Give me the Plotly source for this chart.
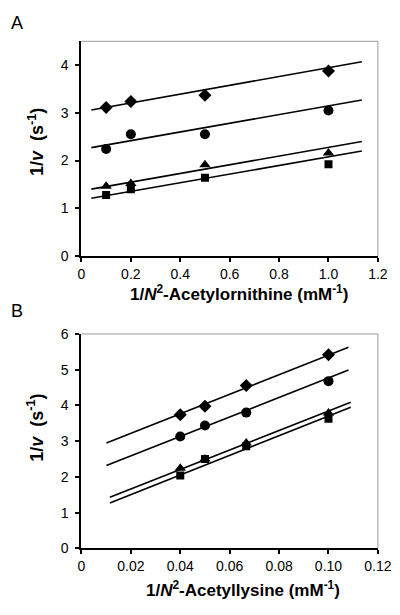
import plotly.graph_objects as go

# ---------------- data ----------------
# Panel A: 1/[N2-acetylornithine] (mM^-1)
xA = [0.1, 0.2, 0.5, 1.0]
A_diamond = [3.11, 3.24, 3.37, 3.88]
A_circle = [2.24, 2.55, 2.55, 3.05]
A_triangle = [1.46, 1.52, 1.91, 2.16]
A_square = [1.28, 1.40, 1.64, 1.92]
# fitted lines (endpoints)
xA_fit = [0.04, 1.135]
A_fit_diamond = [3.06, 4.07]
A_fit_circle = [2.27, 3.27]
A_fit_triangle = [1.40, 2.40]
A_fit_square = [1.21, 2.20]
xA_ticks = [0, 0.2, 0.4, 0.6, 0.8, 1.0, 1.2]
xA_ticklabels = ["0", "0.2", "0.4", "0.6", "0.8", "1.0", "1.2"]
yA_ticks = [0, 1, 2, 3, 4]

# Panel B: 1/[N2-acetyllysine] (mM^-1)
xB = [0.04, 0.05, 0.0667, 0.1]
B_diamond = [3.74, 3.98, 4.56, 5.42]
B_circle = [3.13, 3.44, 3.80, 4.68]
B_triangle = [2.24, 2.50, 2.95, 3.79]
B_square = [2.04, 2.50, 2.86, 3.63]
xB_fit_upper = [0.0101, 0.1081]
B_fit_diamond = [2.95, 5.63]
B_fit_circle = [2.32, 4.99]
xB_fit_lower = [0.0115, 0.109]
B_fit_triangle = [1.43, 4.09]
B_fit_square = [1.27, 3.95]
xB_ticks = [0, 0.02, 0.04, 0.06, 0.08, 0.10, 0.12]
xB_ticklabels = ["0", "0.02", "0.04", "0.06", "0.08", "0.10", "0.12"]
yB_ticks = [0, 1, 2, 3, 4, 5, 6]

# ---------------- figure ----------------
fig = go.Figure()
FONT = "Liberation Sans, Arial, sans-serif"

markers = [("diamond", 10), ("circle", 10), ("triangle-up", 10), ("square", 8)]


def add_panel(xv, series, fits, xa, ya):
    for (sym, sz), ys in zip(markers, series):
        fig.add_trace(go.Scatter(x=xv, y=ys, mode="markers", xaxis=xa, yaxis=ya,
                                 marker=dict(symbol=sym, size=sz, color="black"),
                                 showlegend=False, hoverinfo="skip"))
    for fx, fy in fits:
        fig.add_trace(go.Scatter(x=fx, y=fy, mode="lines", xaxis=xa, yaxis=ya,
                                 line=dict(color="black", width=1.6),
                                 showlegend=False, hoverinfo="skip"))


add_panel(xA, [A_diamond, A_circle, A_triangle, A_square],
          [(xA_fit, A_fit_diamond), (xA_fit, A_fit_circle),
           (xA_fit, A_fit_triangle), (xA_fit, A_fit_square)], "x", "y")
add_panel(xB, [B_diamond, B_circle, B_triangle, B_square],
          [(xB_fit_upper, B_fit_diamond), (xB_fit_upper, B_fit_circle),
           (xB_fit_lower, B_fit_triangle), (xB_fit_lower, B_fit_square)], "x2", "y2")

# page body has an 8px default margin; horizontal factor compensates the capture scale
OFF = 8
SX = 400 / 414
W, H = 414 - 2 * OFF, 615 - 2 * OFF


def px(x):
    return (x / SX - OFF) / W


def py(y):
    return 1 - (y - OFF) / H


xdom = [px(78), px(378)]
yA_dom = [py(254.5), py(34)]
yB_dom = [py(555), py(334.7)]

axis_common = dict(showgrid=False, zeroline=False, showline=True, linecolor="black",
                   linewidth=2, ticks="outside", ticklen=4, tickwidth=2, tickcolor="black",
                   tickfont=dict(family=FONT, size=14, color="black"))

fig.update_layout(
    width=W, height=H,
    margin=dict(l=0, r=0, t=0, b=0),
    paper_bgcolor="white", plot_bgcolor="white",
    xaxis=dict(domain=xdom, range=[0, 1.2], tickvals=xA_ticks, ticktext=xA_ticklabels,
               anchor="y", **axis_common),
    yaxis=dict(domain=yA_dom, range=[0, 4.5], tickvals=yA_ticks, anchor="x",
               ticklabelstandoff=4, **axis_common),
    xaxis2=dict(domain=xdom, range=[0, 0.12], tickvals=xB_ticks, ticktext=xB_ticklabels,
                anchor="y2", **axis_common),
    yaxis2=dict(domain=yB_dom, range=[0, 6], tickvals=yB_ticks, anchor="x2",
                ticklabelstandoff=4, **axis_common),
)

# light gray frame on top and right of each plot area
for xr, yr in [("x domain", "y domain"), ("x2 domain", "y2 domain")]:
    fig.add_shape(type="line", xref=xr, yref=yr, x0=0, x1=1, y0=1, y1=1,
                  line=dict(color="#999999", width=1))
    fig.add_shape(type="line", xref=xr, yref=yr, x0=1, x1=1, y0=0, y1=1,
                  line=dict(color="#999999", width=1))

title_font = dict(family=FONT, size=17, color="black")
ytitle = "<b>1/<i>v</i>&nbsp; (s<sup>-1</sup>)</b>"
annotations = [
    dict(text="A", x=px(12.5), y=py(15), font=dict(family=FONT, size=18, color="black")),
    dict(text="B", x=px(12.5), y=py(311), font=dict(family=FONT, size=18, color="black")),
    dict(text="<b>1/<i>N</i><sup>2</sup>-Acetylornithine (mM<sup>-1</sup>)</b>",
         x=px(237), y=py(293), font=title_font),
    dict(text="<b>1/<i>N</i><sup>2</sup>-Acetyllysine (mM<sup>-1</sup>)</b>",
         x=px(241), y=py(597), font=title_font),
    dict(text=ytitle, x=px(32), y=py(137.5),
         textangle=-90, font=dict(family=FONT, size=18, color="black")),
    dict(text=ytitle, x=px(32), y=py(431),
         textangle=-90, font=dict(family=FONT, size=18, color="black")),
]
for a in annotations:
    fig.add_annotation(xref="paper", yref="paper", showarrow=False,
                       xanchor="center", yanchor="middle", **a)

fig.write_html("out.html")
